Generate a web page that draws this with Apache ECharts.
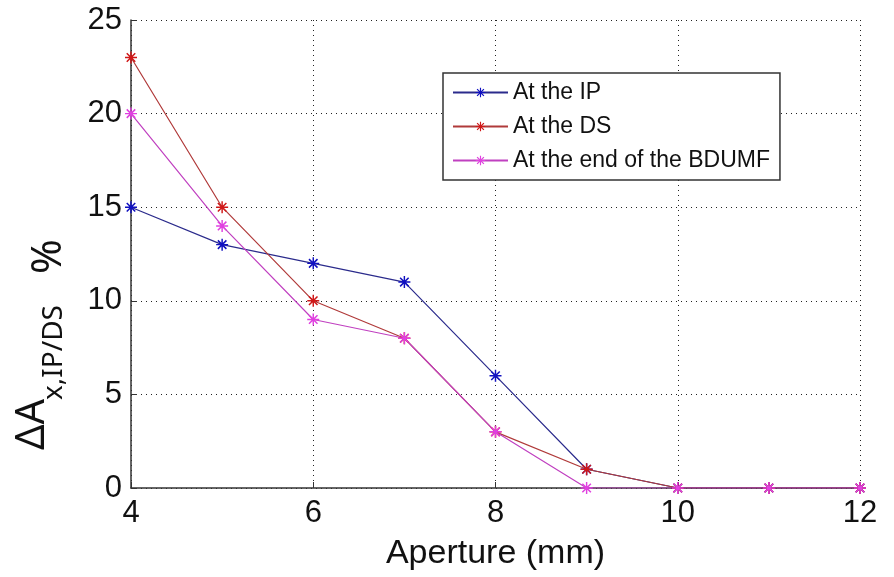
<!DOCTYPE html>
<html>
<head>
<meta charset="utf-8">
<script src="https://cdn.jsdelivr.net/npm/echarts@6/dist/echarts.min.js"></script>
<style>
  html, body { margin: 0; padding: 0; background: #fff; }
  #chart { width: 894px; height: 577px; }
</style>
</head>
<body>
<div id="chart"></div>
<script>
// aperture (mm)
var apertures = [4, 5, 6, 7, 8, 9, 10, 11, 12];
var ipValues = [15, 13, 12, 11, 6, 1, 0, 0, 0];     // At the IP
var dsValues = [23, 15, 10, 8, 3, 1, 0, 0, 0];      // At the DS
var bdumfValues = [20, 14, 9, 8, 3, 0, 0, 0, 0];    // At the end of the BDUMF
var seriesNames = ['At the IP', 'At the DS', 'At the end of the BDUMF'];

// matlab style asterisk marker
var starPath = 'path://M0,4.4L10,4.4L10,5.6L0,5.6Z M4.4,0L5.6,0L5.6,10L4.4,10Z ' +
  'M1.0,1.9L1.9,1.0L9.0,8.1L8.1,9.0Z M8.1,1.0L9.0,1.9L1.9,9.0L1.0,8.1Z';

function pairs(vals) {
  var out = [];
  for (var i = 0; i < apertures.length; i++) {
    out.push([apertures[i], vals[i]]);
  }
  return out;
}

function makeSeries(name, vals, lineColor, markColor) {
  return {
    name: name,
    type: 'line',
    data: pairs(vals),
    symbol: starPath,
    symbolSize: 12,
    showAllSymbol: true,
    lineStyle: { color: lineColor, width: 1.2 },
    itemStyle: { color: markColor },
    emphasis: { disabled: true },
    animation: false
  };
}

var chart = echarts.init(document.getElementById('chart'));

var option = {
  backgroundColor: '#fff',
  animation: false,
  grid: { left: 131, right: 34, top: 20, bottom: 89 },
  legend: {
    orient: 'vertical',
    left: 443,
    top: 73,
    padding: [8, 10, 8, 9],
    itemWidth: 55,
    itemHeight: 12,
    itemGap: 11,
    borderColor: '#333',
    borderWidth: 1.5,
    backgroundColor: '#fff',
    textStyle: { fontFamily: 'Liberation Sans', fontSize: 23, color: '#111', lineHeight: 22 },
    data: seriesNames
  },
  xAxis: {
    type: 'value',
    min: 4,
    max: 12,
    interval: 2,
    name: 'Aperture (mm)',
    nameLocation: 'middle',
    nameGap: 49,
    nameTextStyle: { fontFamily: 'Liberation Sans', fontSize: 34, color: '#111' },
    axisLine: { lineStyle: { color: '#333', width: 1.5 } },
    axisTick: { inside: true, length: 6, lineStyle: { color: '#333' } },
    axisLabel: { fontFamily: 'Liberation Sans', fontSize: 31, color: '#111', margin: 10 },
    splitLine: { show: true, lineStyle: { color: '#222', type: [1, 4], width: 1 } }
  },
  yAxis: {
    type: 'value',
    min: 0,
    max: 25,
    interval: 5,
    axisLine: { show: true, lineStyle: { color: '#333', width: 1.5 } },
    axisTick: { show: true, inside: true, length: 6, lineStyle: { color: '#333' } },
    axisLabel: { fontFamily: 'Liberation Sans', fontSize: 31, color: '#111', margin: 9 },
    splitLine: { show: true, lineStyle: { color: '#222', type: [1, 4], width: 1 } }
  },
  graphic: [
    {
      type: 'text', x: 33, y: 450, rotation: Math.PI / 2, silent: true,
      style: { text: 'ΔA', fontFamily: 'Noto Sans', fontSize: 40, fill: '#111',
        align: 'left', verticalAlign: 'middle' }
    },
    {
      type: 'text', x: 54, y: 400, rotation: Math.PI / 2, silent: true,
      style: { text: 'x,IP/DS', fontFamily: 'Noto Sans', fontSize: 28, fill: '#111',
        align: 'left', verticalAlign: 'middle' }
    },
    {
      type: 'text', x: 49, y: 274, rotation: Math.PI / 2, silent: true,
      style: { text: '%', fontFamily: 'Noto Sans', fontSize: 42, fill: '#111',
        align: 'left', verticalAlign: 'middle' }
    }
  ],
  series: [
    makeSeries(seriesNames[0], ipValues, '#2b2b8c', '#1010c0'),
    makeSeries(seriesNames[1], dsValues, '#b03a3a', '#d01818'),
    makeSeries(seriesNames[2], bdumfValues, '#c040c0', '#e040e0')
  ]
};

chart.setOption(option);
</script>
</body>
</html>
